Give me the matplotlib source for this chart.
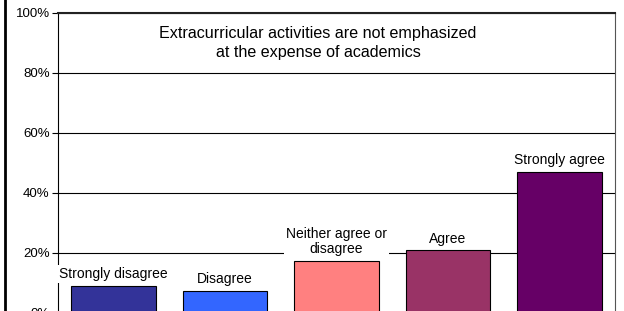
import matplotlib
matplotlib.use("Agg")
import matplotlib.pyplot as plt
from matplotlib.lines import Line2D

categories = ["Strongly disagree", "Disagree", "Neither agree or\ndisagree", "Agree", "Strongly agree"]
values = [8.8, 7.1, 17.3, 20.7, 46.8]
colors = ["#333399", "#3366FF", "#FF8080", "#993366", "#660066"]
yticks = [0, 20, 40, 60, 80, 100]
ytick_labels = ["0%", "20%", "40%", "60%", "80%", "100%"]
title = "Extracurricular activities are not emphasized\nat the expense of academics"

plt.rcParams['font.family'] = ['Liberation Sans', 'DejaVu Sans']

fig = plt.figure(figsize=(6.24, 3.11), dpi=100)
ax = fig.add_axes([58/624, -1.5/311, 557/624, 300/311])

x = list(range(len(categories)))
bars = ax.bar(x, values, width=0.76, color=colors, edgecolor="black", linewidth=0.8, zorder=3)

ax.set_xlim(-0.5, len(categories) - 0.5)
ax.set_ylim(0, 100)
ax.set_yticks(yticks)
ax.set_yticklabels(ytick_labels, fontsize=9.5)
ax.set_xticks([])
ax.tick_params(axis='y', direction='out', length=4, width=0.8, pad=2)
ax.yaxis.grid(True, color="black", linewidth=0.8, zorder=0)
ax.set_axisbelow(True)

for s in ["left", "bottom"]:
    ax.spines[s].set_linewidth(0.8)
    ax.spines[s].set_color("black")
ax.spines["top"].set_linewidth(1.5)
ax.spines["top"].set_color("#222222")
ax.spines["right"].set_linewidth(0.8)
ax.spines["right"].set_color("#555555")

for xi, v, lab in zip(x, values, categories):
    ax.annotate(lab, xy=(xi, v), xytext=(0, 3.5), textcoords="offset points",
                ha="center", va="bottom", fontsize=10, linespacing=1.1,
                bbox=dict(boxstyle="square,pad=0.15", fc="white", ec="none"),
                zorder=6, annotation_clip=False)

ax.text(0.467, 0.955, title, transform=ax.transAxes, ha="center", va="top",
        fontsize=11.6, linespacing=1.3, zorder=6)

fig.add_artist(Line2D([5/624, 5/624], [0, 1], transform=fig.transFigure,
                      color="black", linewidth=2))

fig.savefig("out.png", dpi=100)
